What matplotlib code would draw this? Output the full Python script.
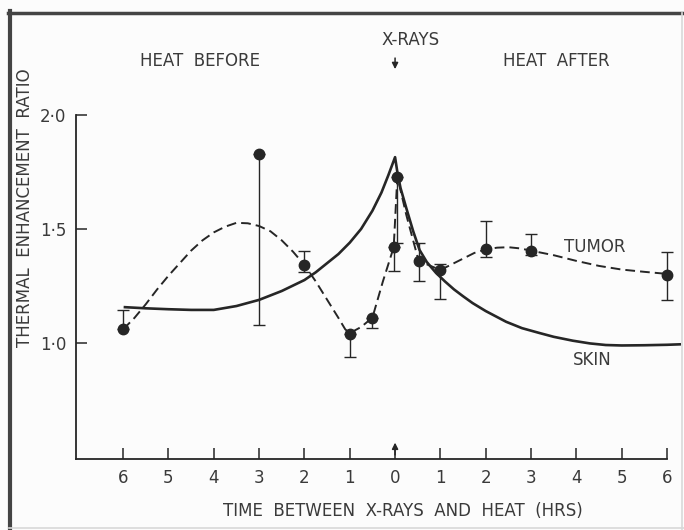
import matplotlib
matplotlib.use("Agg")
import matplotlib.pyplot as plt
from matplotlib.lines import Line2D

# time axis: negative = heat before x-rays, positive = heat after
tick_pos = [-6, -5, -4, -3, -2, -1, 0, 1, 2, 3, 4, 5, 6]
tick_lab = ["6", "5", "4", "3", "2", "1", "0", "1", "2", "3", "4", "5", "6"]
ytick_pos = [1.0, 1.5, 2.0]
ytick_lab = ["1·0", "1·5", "2·0"]

# tumor measurements (filled circles) with one-sided / asymmetric error bars
tumor_x = [-6, -3, -2, -1, -0.5, -0.03, 0.05, 0.52, 1.0, 2.0, 3.0, 6.0]
tumor_y = [1.06, 1.83, 1.34, 1.04, 1.11, 1.42, 1.73, 1.36, 1.32, 1.41, 1.405, 1.30]
tumor_lo = [0.0, 0.75, 0.03, 0.10, 0.045, 0.105, 0.29, 0.09, 0.125, 0.035, 0.02, 0.11]
tumor_hi = [0.085, 0.0, 0.065, 0.0, 0.0, 0.0, 0.0, 0.08, 0.025, 0.125, 0.075, 0.10]

# dashed tumor curve as drawn
tcurve_x = [-6, -5.75, -5.5, -5.25, -5, -4.75, -4.5, -4.25, -4, -3.75, -3.5, -3.25,
            -3, -2.75, -2.5, -2.25, -2, -1.75, -1.5, -1.25, -1.1, -1.0, -0.75, -0.5,
            -0.27, -0.03, 0.05, 0.25, 0.52, 1.0, 1.25, 1.5, 1.75, 2.0, 2.25, 2.5,
            2.75, 3.0, 3.5, 4.0, 4.5, 5.0, 5.5, 6.0]
tcurve_y = [1.06, 1.11, 1.17, 1.235, 1.295, 1.35, 1.405, 1.45, 1.485, 1.51, 1.527,
            1.525, 1.513, 1.49, 1.45, 1.40, 1.342, 1.27, 1.19, 1.11, 1.06, 1.043,
            1.07, 1.111, 1.269, 1.42, 1.73, 1.56, 1.36, 1.32, 1.345, 1.37, 1.395,
            1.41, 1.418, 1.42, 1.415, 1.405, 1.385, 1.36, 1.338, 1.322, 1.312, 1.303]

# solid skin curve
skin_x = [-5.96, -5.5, -5, -4.5, -4, -3.5, -3, -2.5, -2, -1.75, -1.5, -1.25, -1,
          -0.75, -0.5, -0.3, -0.15, 0, 0.05, 0.12, 0.25, 0.4, 0.54, 0.7, 0.9, 1.1,
          1.3, 1.5, 1.71, 2.0, 2.45, 2.8, 3.18, 3.5, 3.92, 4.3, 4.65, 5.0, 5.5,
          6.0, 6.28]
skin_y = [1.157, 1.152, 1.148, 1.145, 1.145, 1.162, 1.189, 1.228, 1.276, 1.31,
          1.35, 1.39, 1.44, 1.50, 1.58, 1.66, 1.735, 1.815, 1.75, 1.68, 1.59, 1.49,
          1.408, 1.355, 1.308, 1.27, 1.235, 1.205, 1.175, 1.14, 1.093, 1.065, 1.044,
          1.027, 1.01, 0.998, 0.991, 0.989, 0.99, 0.992, 0.994]

ink = "#262626"
txt = "#3a3a3a"
plt.rcParams["font.family"] = ["DejaVu Sans"]

fig = plt.figure(figsize=(6.84, 5.30), dpi=100, facecolor="#fcfcfc")
ax = fig.add_axes([76 / 684, 71 / 530, 591 / 684, 344 / 530])
ax.set_facecolor("none")

ax.plot(skin_x, skin_y, color=ink, lw=1.9, clip_on=False, zorder=2)
ax.plot(tcurve_x, tcurve_y, color=ink, lw=1.4, linestyle=(0, (5, 2.6)),
        clip_on=False, zorder=2)
ax.errorbar(tumor_x, tumor_y, yerr=[tumor_lo, tumor_hi], fmt="o", color=ink,
            ms=7.5, elinewidth=1.0, capsize=4, capthick=1.0, clip_on=False, zorder=3)

ax.set_xlim(-7.04, 6.0)
ax.set_ylim(0.491, 2.0)
ax.spines["top"].set_visible(False)
ax.spines["right"].set_visible(False)
for s in ["left", "bottom"]:
    ax.spines[s].set_color(ink)
    ax.spines[s].set_linewidth(1.3)
ax.set_xticks(tick_pos)
ax.set_xticklabels(tick_lab)
ax.set_yticks(ytick_pos)
ax.set_yticklabels(ytick_lab)
ax.tick_params(direction="in", length=8, width=1.1, color=ink, labelcolor=txt,
               labelsize=12, pad=7)

ax.text(4.4, 1.42, "TUMOR", fontsize=12, color=txt, ha="center", va="center")
ax.text(4.35, 0.925, "SKIN", fontsize=12, color=txt, ha="center", va="center")

# arrows marking the time of x-rays
ax.annotate("", xy=(0, 2.189), xytext=(0, 2.262), annotation_clip=False,
            arrowprops=dict(arrowstyle="-|>", color=ink, lw=1.1, mutation_scale=9))
ax.annotate("", xy=(0, 0.575), xytext=(0, 0.497), annotation_clip=False,
            arrowprops=dict(arrowstyle="-|>", color=ink, lw=1.1, mutation_scale=9))

fig.text(411 / 684, 1 - 40 / 530, "X-RAYS", fontsize=12, color=txt,
         ha="center", va="center")
fig.text(200 / 684, 1 - 61 / 530, "HEAT  BEFORE", fontsize=12, color=txt,
         ha="center", va="center")
fig.text(556 / 684, 1 - 61 / 530, "HEAT  AFTER", fontsize=12, color=txt,
         ha="center", va="center")
fig.text(25 / 684, 1 - 208 / 530, "THERMAL  ENHANCEMENT  RATIO", fontsize=12,
         color=txt, rotation=90, ha="center", va="center")
fig.text(403 / 684, 1 - 511 / 530, "TIME  BETWEEN  X-RAYS  AND  HEAT  (HRS)",
         fontsize=12, color=txt, ha="center", va="center")

# page frame
fig.add_artist(Line2D([9.5 / 684, 9.5 / 684], [0, 1 - 11 / 530], color="#444444",
                      lw=3, transform=fig.transFigure))
fig.add_artist(Line2D([8 / 684, 1], [1 - 13 / 530, 1 - 13 / 530], color="#444444",
                      lw=2.5, transform=fig.transFigure))
fig.add_artist(Line2D([681.5 / 684, 681.5 / 684], [0, 1 - 13 / 530], color="#d8d8d8",
                      lw=1.2, transform=fig.transFigure))
fig.add_artist(Line2D([9 / 684, 1], [2.5 / 530, 2.5 / 530], color="#d8d8d8",
                      lw=1.2, transform=fig.transFigure))

fig.savefig("out.png", dpi=100, facecolor=fig.get_facecolor())
